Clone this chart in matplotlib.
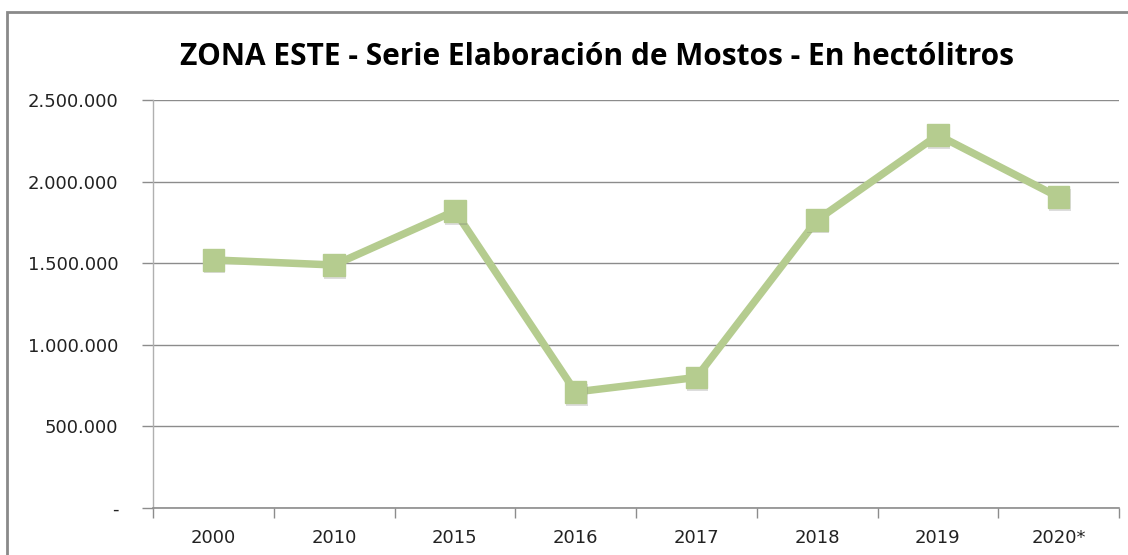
import matplotlib
matplotlib.use("Agg")
import matplotlib.pyplot as plt
import matplotlib.patheffects as pe
from matplotlib.patches import Rectangle
from matplotlib.ticker import FuncFormatter, FixedLocator, MultipleLocator

categories = ["2000", "2010", "2015", "2016", "2017", "2018", "2019", "2020*"]
values = [1520000, 1489000, 1820000, 711000, 800000, 1765000, 2285000, 1905000]
title = "ZONA ESTE - Serie Elaboración de Mostos - En hectólitros"

line_color = "#b5cc8f"
grid_color = "#8c8c8c"

fig = plt.figure(figsize=(11.28, 5.55), dpi=100)
fig.patch.set_facecolor("white")

# outer chart frame
fig.patches.append(Rectangle((7/1128, -0.1), 1.2, (555-12)/555 + 0.1,
                             transform=fig.transFigure, fill=False,
                             edgecolor="#8a8a8a", linewidth=2.0))

ax = fig.add_axes([153/1128, 47/555, (1119-153)/1128, (508-100)/555])
x = list(range(len(categories)))
ax.plot(x, values, color=line_color, linewidth=5.4, solid_capstyle="butt", zorder=3)
ax.plot(x, values, linestyle="none", marker="s", markersize=15.5,
        markerfacecolor=line_color, markeredgecolor=line_color, zorder=4,
        path_effects=[pe.SimplePatchShadow(offset=(0.8, -2.0), shadow_rgbFace="#666666", alpha=0.22),
                      pe.Normal()])

ax.set_xlim(-0.5, len(categories) - 0.5)
ax.set_ylim(0, 2500000)
ax.yaxis.set_major_locator(MultipleLocator(500000))

def fmt(v, pos):
    if v == 0:
        return "-"
    return f"{int(v):,}".replace(",", ".")
ax.yaxis.set_major_formatter(FuncFormatter(fmt))

ax.set_xticks(x)
ax.set_xticklabels(categories)
ax.xaxis.set_minor_locator(FixedLocator([i - 0.5 for i in range(len(categories) + 1)]))
ax.tick_params(axis="x", which="major", length=0, pad=15, labelsize=13, colors="#222222")
ax.tick_params(axis="x", which="minor", length=7, color=grid_color, width=1.0, direction="out")
ax.tick_params(axis="y", which="major", length=8, color=grid_color, width=1.0, pad=17,
               labelsize=13, labelcolor="#222222")

ax.grid(axis="y", color=grid_color, linewidth=1.0, zorder=0)
ax.set_axisbelow(True)
for s in ["top", "right"]:
    ax.spines[s].set_visible(False)
ax.spines["left"].set_color("#b0b0b0")
ax.spines["bottom"].set_color(grid_color)
ax.spines["left"].set_linewidth(1.0)
ax.spines["bottom"].set_linewidth(1.2)

fig.text(597/1128, 1 - 57/555, title, ha="center", va="center",
         fontsize=21.5, fontweight="bold", family=["Open Sans", "DejaVu Sans"])

fig.savefig("out.png", dpi=100)
